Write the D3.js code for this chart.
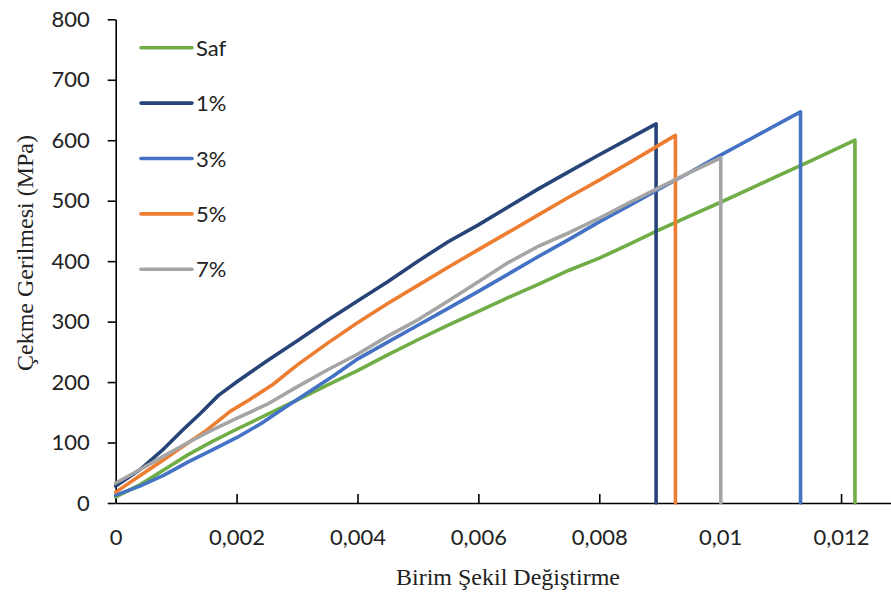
<!DOCTYPE html>
<html>
<head>
<meta charset="utf-8">
<script src="https://cdn.jsdelivr.net/npm/d3@7"></script>
<style>
  body { margin: 0; background: #fff; }
  svg { display: block; }
</style>
</head>
<body>
<svg width="891" height="595"></svg>
<script>
// series names and colours (legend order)
const seriesNames = ["Saf", "1%", "3%", "5%", "7%"];
const seriesColors = ["#70ad47", "#264478", "#4472c4", "#ed7d31", "#a5a5a5"];

// [strain, stress MPa]; last point is the break drop
const safData = [[0,10],[0.0004,30],[0.0008,55],[0.0012,80],[0.0016,102],[0.0020,122],[0.0025,146],[0.0030,170],
  [0.0035,195],[0.0040,219],[0.0045,245],[0.0050,270],[0.0055,294],[0.0060,317],[0.0065,340],[0.0070,362],
  [0.0075,385],[0.0080,405],[0.0085,428],[0.0090,452],[0.0095,475],[0.0100,497],[0.0105,520],[0.0110,543],
  [0.0115,566],[0.01223,600],[0.01223,0]];
const p1Data = [[0,28],[0.0004,55],[0.0008,90],[0.0011,120],[0.0014,148],[0.0017,178],[0.0020,200],[0.0025,235],
  [0.0030,268],[0.0035,302],[0.0040,334],[0.0045,366],[0.0050,400],[0.0055,432],[0.0060,460],[0.0065,490],
  [0.0070,520],[0.0075,548],[0.0080,576],[0.0085,603],[0.00894,627],[0.00894,0]];
const p3Data = [[0,13],[0.0004,28],[0.0008,46],[0.0012,68],[0.0016,88],[0.0020,108],[0.0024,131],[0.0028,158],
  [0.0032,184],[0.0036,210],[0.0040,238],[0.0045,266],[0.0050,294],[0.0055,322],[0.0060,350],[0.0065,379],
  [0.0070,408],[0.0075,436],[0.0080,465],[0.0085,492],[0.0090,520],[0.0095,547],[0.0100,575],[0.0105,602],
  [0.0110,629],[0.01133,647],[0.01133,0]];
const p5Data = [[0,18],[0.0004,45],[0.0008,72],[0.0010,86],[0.0015,120],[0.0019,152],[0.0022,170],[0.0026,196],
  [0.0030,228],[0.0035,264],[0.0040,298],[0.0045,330],[0.0050,360],[0.0055,390],[0.0060,419],[0.0065,448],
  [0.0070,477],[0.0075,506],[0.0080,534],[0.0085,563],[0.00926,608],[0.00926,0]];
const p7Data = [[0,33],[0.0004,55],[0.0008,78],[0.0012,100],[0.0016,121],[0.0020,140],[0.0025,163],[0.0030,192],
  [0.0035,220],[0.0040,246],[0.0045,276],[0.0050,303],[0.0055,334],[0.0060,366],[0.0065,398],[0.0070,425],
  [0.0075,447],[0.0080,471],[0.0085,497],[0.0090,522],[0.0095,547],[0.01001,571],[0.01001,0]];

const xTicks = [0, 0.002, 0.004, 0.006, 0.008, 0.01, 0.012];
const yTicks = [0, 100, 200, 300, 400, 500, 600, 700, 800];

const allData = [safData, p1Data, p3Data, p5Data, p7Data];

const x = d3.scaleLinear().domain([0, 0.013]).range([115.7, 901.5]);
const y = d3.scaleLinear().domain([0, 800]).range([503, 19.3]);

const svg = d3.select("svg");
const tickFont = "Lato, 'Open Sans', sans-serif";
const titleFont = "'Liberation Serif', 'Times New Roman', serif";

// axes
const xAxis = svg.append("g")
    .attr("transform", "translate(0," + y(0) + ")")
    .call(d3.axisBottom(x).tickValues(xTicks).tickSizeInner(-9).tickSizeOuter(0).tickPadding(26)
        .tickFormat(d => d === 0 ? "0" : String(+d.toFixed(3)).replace(".", ",")));

const yAxis = svg.append("g")
    .attr("transform", "translate(" + x(0) + ",0)")
    .call(d3.axisLeft(y).tickValues(yTicks).tickSizeInner(8).tickSizeOuter(0).tickPadding(18));

[xAxis, yAxis].forEach(function(a){
    a.selectAll("path, line").attr("stroke", "#000").attr("stroke-width", 1.6);
    a.selectAll("text").attr("fill", "#222").style("font-family", tickFont).style("font-size", "22px");
});

// axis titles
svg.append("text")
    .attr("x", 508).attr("y", 585)
    .attr("text-anchor", "middle")
    .style("font-family", titleFont)
    .style("font-size", "24px")
    .attr("fill", "#222")
    .text("Birim Şekil Değiştirme");

svg.append("text")
    .attr("transform", "translate(33,253) rotate(-90)")
    .attr("text-anchor", "middle")
    .style("font-family", titleFont)
    .style("font-size", "24px")
    .attr("fill", "#222")
    .text("Çekme Gerilmesi (MPa)");

// series lines
const line = d3.line().x(d => x(d[0])).y(d => y(d[1]));

svg.append("g").selectAll("path")
    .data(allData).enter()
    .append("path")
    .attr("fill", "none")
    .attr("stroke", (d, i) => seriesColors[i])
    .attr("stroke-width", 3.6)
    .attr("stroke-linejoin", "round")
    .attr("stroke-linecap", "round")
    .attr("d", line);

// legend
const legend = svg.append("g").selectAll("g")
    .data(seriesNames).enter()
    .append("g")
    .attr("transform", (d, i) => "translate(141," + (47.7 + i * 55.4) + ")");

legend.append("line")
    .attr("x1", 0).attr("x2", 51)
    .attr("stroke", (d, i) => seriesColors[i])
    .attr("stroke-width", 3.6)
    .attr("stroke-linecap", "round");

legend.append("text")
    .attr("x", 55).attr("y", 8)
    .style("font-family", tickFont)
    .style("font-size", "22px")
    .attr("fill", "#222")
    .text(d => d);
</script>
</body>
</html>
